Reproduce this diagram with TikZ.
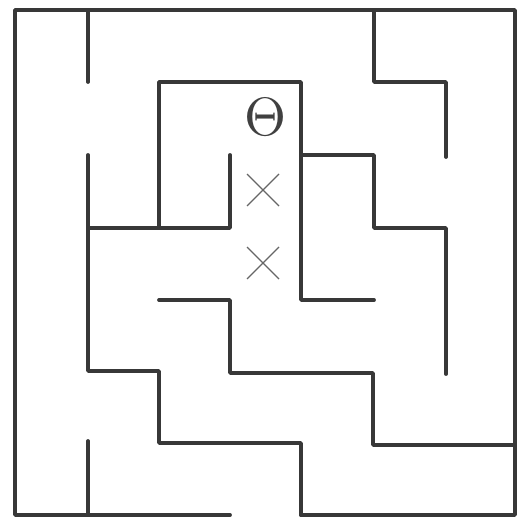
\documentclass[tikz,border=0pt]{standalone}
\begin{document}
\begin{tikzpicture}[x=1pt,y=-1pt,
  wall/.style={line width=3.8pt,draw=black!78,line cap=round,line join=round},
  xmark/.style={line width=1.3pt,draw=black!60}]
\useasboundingbox (0,0) rectangle (516,518);
% outer border
\draw[wall] (230,515) -- (15,515) -- (15,10) -- (515,10) -- (515,515) -- (301,515);
% inner walls
\draw[wall] (88,10) -- (88,82);
\draw[wall] (88,155) -- (88,371) -- (159,371) -- (159,443) -- (301,443) -- (301,515);
\draw[wall] (88,228) -- (230,228) -- (230,155);
\draw[wall] (159,228) -- (159,82) -- (301,82) -- (301,300) -- (374,300);
\draw[wall] (301,155) -- (374,155) -- (374,228) -- (446,228) -- (446,374);
\draw[wall] (374,10) -- (374,82) -- (446,82) -- (446,157);
\draw[wall] (159,300) -- (230,300) -- (230,373) -- (373,373) -- (373,445) -- (515,445);
\draw[wall] (88,441) -- (88,515);
% symbols
\node[text=black!75,scale=5.4,inner sep=0] (theta) at (265,117) {$\Theta$};
\draw[xmark] (247,174) -- (279,206) (247,206) -- (279,174);
\draw[xmark] (247,247) -- (279,279) (247,279) -- (279,247);
\end{tikzpicture}
\end{document}
